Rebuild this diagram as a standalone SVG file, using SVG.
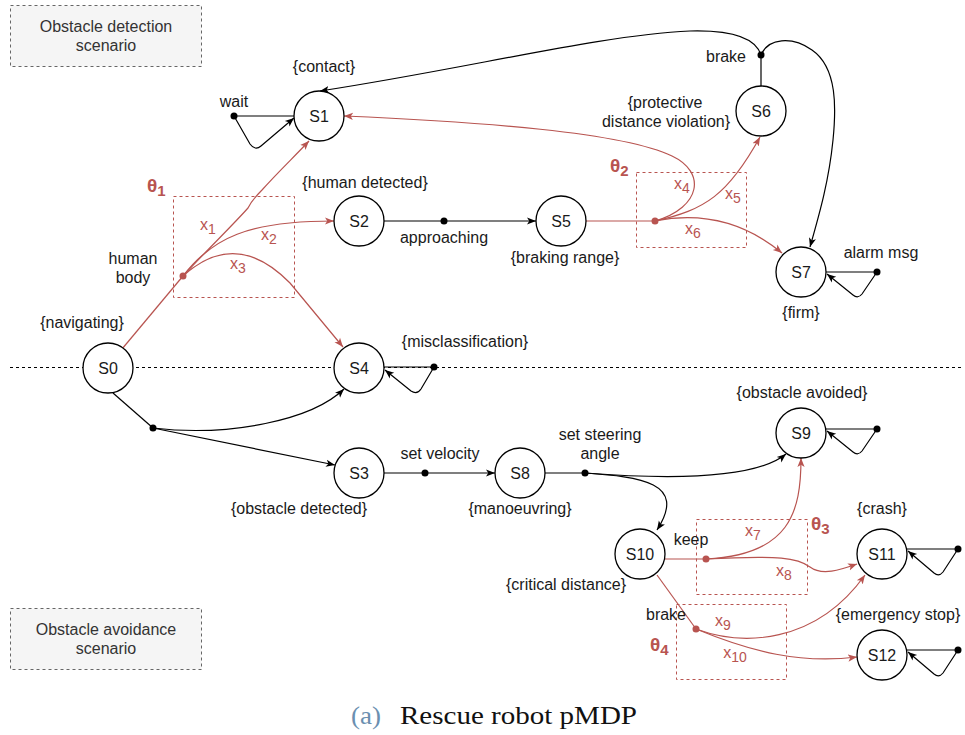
<svg xmlns="http://www.w3.org/2000/svg" width="965" height="735" viewBox="0 0 965 735">
  <style>
    .node circle { fill: #ffffff; stroke: #000000; stroke-width: 1.3; }
    .lbl { font-family: "Liberation Sans", Arial, sans-serif; font-size: 16px; fill: #1a1a1a; text-anchor: middle; }
    .red { fill: #b85450; }
    .theta { font-family: "Liberation Sans", Arial, sans-serif; font-size: 19px; font-weight: bold; fill: #b85450; }
    .blk { fill: none; stroke: #000000; stroke-width: 1.2; }
    .rd { fill: none; stroke: #b85450; stroke-width: 1.2; }
    .arr { marker-end: url(#ab); }
    .arrr { marker-end: url(#ar); }
    .dot { fill: #000000; }
    .rdot { fill: #b85450; }
    .pbox { fill: none; stroke: #b85450; stroke-width: 1; stroke-dasharray: 3 3; }
    .scen rect { fill: #f5f5f5; stroke: #666666; stroke-width: 1; stroke-dasharray: 3 3; }
    .scen text { font-family: "Liberation Sans", Arial, sans-serif; font-size: 16px; fill: #333333; text-anchor: middle; }
  </style>
  <defs>
    <marker id="ab" viewBox="0 0 10 10" refX="10" refY="5" markerWidth="9" markerHeight="9" markerUnits="userSpaceOnUse" orient="auto">
      <path d="M0,1 L10,5 L0,9 L2.5,5 z" fill="#000000"/>
    </marker>
    <marker id="ar" viewBox="0 0 10 10" refX="10" refY="5" markerWidth="9" markerHeight="9" markerUnits="userSpaceOnUse" orient="auto">
      <path d="M0,1 L10,5 L0,9 L2.5,5 z" fill="#b85450"/>
    </marker>
  </defs>

  <rect width="965" height="735" fill="#ffffff"/>

  <!-- scenario boxes -->
  <g id="scenario-detection" class="scen">
    <rect x="10.5" y="5.5" width="191" height="61"/>
    <text x="106" y="32">Obstacle detection</text>
    <text x="106" y="51">scenario</text>
  </g>
  <g id="scenario-avoidance" class="scen">
    <rect x="10.5" y="608.5" width="191" height="61"/>
    <text x="106" y="635">Obstacle avoidance</text>
    <text x="106" y="654">scenario</text>
  </g>

  <!-- divider between the two scenarios -->
  <line x1="10" y1="367.5" x2="962" y2="367.5" stroke="#000000" stroke-width="1" stroke-dasharray="3 3"/>

  <!-- parameter boxes -->
  <g id="params">
    <rect class="pbox" x="173.5" y="196.5" width="121" height="101"/>
    <rect class="pbox" x="636.5" y="172.5" width="110" height="75"/>
    <rect class="pbox" x="696.5" y="519.5" width="111" height="75"/>
    <rect class="pbox" x="676.5" y="604.5" width="110" height="75"/>
  </g>

  <!-- connectors -->
  <g id="connectors">
    <!-- obstacle detection: black -->
    <path class="blk" d="M384,221 L444,221"/>
    <path class="blk arr" d="M444,221 L536,221"/>
    <path class="blk" d="M761,86 L761,55"/>
    <path class="blk arr" d="M761,55 C755,36 728,30 690,31 C600,35 470,68 320,91"/>
    <path class="blk arr" d="M761,55 C768,38 792,36 812,50 C838,68 836,110 833,140 C829,180 820,212 810,247"/>
    <!-- self loops (top) -->
    <path class="blk" d="M234,116 L294,116"/>
    <path class="blk arr" d="M234,116 L250,144 Q255,151 261,146 L294,118"/>
    <path class="blk" d="M434,367 L384,367"/>
    <path class="blk arr" d="M434,367 L421,389 Q417,395 411,391 L385,370"/>
    <path class="blk" d="M877,272 L826,272"/>
    <path class="blk arr" d="M877,272 L862,294 Q858,299 853,295 L827,274"/>

    <!-- obstacle detection: red -->
    <path class="rd" d="M122,349 L183,276"/>
    <path class="rd arrr" d="M183,276 C205,252 232,226 248,208 C252,200 256,196 262,190 C278,172 294,157 309,141"/>
    <path class="rd arrr" d="M183,276 C212,238 248,221 334,221"/>
    <path class="rd arrr" d="M183,276 Q236,228 290,283 L343,347"/>
    <path class="rd" d="M586,221 L655,221"/>
    <path class="rd arrr" d="M655,221 C702,207 706,172 672,156 C622,132 480,122 344,116"/>
    <path class="rd arrr" d="M655,221 C705,210 728,195 760,137"/>
    <path class="rd arrr" d="M655,221 C700,212 742,220 782,253"/>

    <!-- obstacle avoidance: black -->
    <path class="blk" d="M113,393 L153,428"/>
    <path class="blk arr" d="M153,428 C230,437 312,420 344,389"/>
    <path class="blk arr" d="M153,428 L335,465"/>
    <path class="blk" d="M384,473 L425,473"/>
    <path class="blk arr" d="M425,473 L495,473"/>
    <path class="blk" d="M545,473 L585,473"/>
    <path class="blk arr" d="M585,473 C650,478 752,482 786,454"/>
    <path class="blk arr" d="M585,473 C640,477 688,482 657,530"/>
    <!-- self loops (bottom) -->
    <path class="blk" d="M877,429 L826,429"/>
    <path class="blk arr" d="M877,429 L862,451 Q858,456 853,452 L827,431"/>
    <path class="blk" d="M958,549 L907,549"/>
    <path class="blk arr" d="M958,549 L943,572 Q939,577 934,573 L908,551"/>
    <path class="blk" d="M958,650 L907,650"/>
    <path class="blk arr" d="M958,650 L943,673 Q939,678 934,674 L908,652"/>

    <!-- obstacle avoidance: red -->
    <path class="rd" d="M665,559 L706,559"/>
    <path class="rd arrr" d="M706,559 C790,555 801,512 801,458"/>
    <path class="rd arrr" d="M706,559 C780,555 798,558 810,567 C822,576 840,570 857,564"/>
    <path class="rd" d="M657,575 L696,629"/>
    <path class="rd arrr" d="M696,629 C742,646 815,645 865,575"/>
    <path class="rd arrr" d="M696,629 C752,652 800,664 857,657"/>
  </g>

  <!-- junction dots -->
  <g id="junctions">
    <circle class="dot" cx="234" cy="116" r="3.5"/>
    <circle class="dot" cx="444" cy="221" r="3.5"/>
    <circle class="dot" cx="761" cy="55" r="3.5"/>
    <circle class="dot" cx="877" cy="272" r="3.5"/>
    <circle class="dot" cx="434" cy="367" r="3.5"/>
    <circle class="dot" cx="153" cy="428" r="3.5"/>
    <circle class="dot" cx="425" cy="473" r="3.5"/>
    <circle class="dot" cx="585" cy="473" r="3.5"/>
    <circle class="dot" cx="877" cy="429" r="3.5"/>
    <circle class="dot" cx="958" cy="549" r="3.5"/>
    <circle class="dot" cx="958" cy="650" r="3.5"/>
    <circle class="rdot" cx="183" cy="276" r="3.5"/>
    <circle class="rdot" cx="655" cy="221" r="3.5"/>
    <circle class="rdot" cx="706" cy="559" r="3.5"/>
    <circle class="rdot" cx="696" cy="629" r="3.5"/>
  </g>

  <!-- states -->
  <g id="S0" class="node"><circle cx="108" cy="368" r="25"/><text class="lbl" x="108" y="374">S0</text></g>
  <g id="S1" class="node"><circle cx="319" cy="116" r="25"/><text class="lbl" x="319" y="122">S1</text></g>
  <g id="S2" class="node"><circle cx="359" cy="221" r="25"/><text class="lbl" x="359" y="227">S2</text></g>
  <g id="S3" class="node"><circle cx="359" cy="473" r="25"/><text class="lbl" x="359" y="479">S3</text></g>
  <g id="S4" class="node"><circle cx="359" cy="368" r="25"/><text class="lbl" x="359" y="374">S4</text></g>
  <g id="S5" class="node"><circle cx="561" cy="221" r="25"/><text class="lbl" x="561" y="227">S5</text></g>
  <g id="S6" class="node"><circle cx="761" cy="111" r="25"/><text class="lbl" x="761" y="117">S6</text></g>
  <g id="S7" class="node"><circle cx="801" cy="272" r="25"/><text class="lbl" x="801" y="278">S7</text></g>
  <g id="S8" class="node"><circle cx="520" cy="473" r="25"/><text class="lbl" x="520" y="479">S8</text></g>
  <g id="S9" class="node"><circle cx="801" cy="433" r="25"/><text class="lbl" x="801" y="439">S9</text></g>
  <g id="S10" class="node"><circle cx="640" cy="554" r="25"/><text class="lbl" x="640" y="560">S10</text></g>
  <g id="S11" class="node"><circle cx="882" cy="554" r="25"/><text class="lbl" x="882" y="560">S11</text></g>
  <g id="S12" class="node"><circle cx="882" cy="655" r="25"/><text class="lbl" x="882" y="661">S12</text></g>

  <!-- state and action labels -->
  <g id="labels">
    <text class="lbl" x="82" y="328">{navigating}</text>
    <text class="lbl" x="324" y="72">{contact}</text>
    <text class="lbl" x="234" y="107">wait</text>
    <text class="lbl" x="365" y="188">{human detected}</text>
    <text class="lbl" x="444" y="243">approaching</text>
    <text class="lbl" x="133" y="264">human</text>
    <text class="lbl" x="133" y="283">body</text>
    <text class="lbl" x="465" y="347">{misclassification}</text>
    <text class="lbl" x="565" y="263">{braking range}</text>
    <text class="lbl" x="665" y="108">{protective</text>
    <text class="lbl" x="666" y="127">distance violation}</text>
    <text class="lbl" x="726" y="62">brake</text>
    <text class="lbl" x="881" y="258">alarm msg</text>
    <text class="lbl" x="801" y="318">{firm}</text>
    <text class="lbl" x="802" y="398">{obstacle avoided}</text>
    <text class="lbl" x="440" y="459">set velocity</text>
    <text class="lbl" x="299" y="514">{obstacle detected}</text>
    <text class="lbl" x="600" y="440">set steering</text>
    <text class="lbl" x="600" y="459">angle</text>
    <text class="lbl" x="520" y="514">{manoeuvring}</text>
    <text class="lbl" x="882" y="514">{crash}</text>
    <text class="lbl" x="691" y="545">keep</text>
    <text class="lbl" x="566" y="590">{critical distance}</text>
    <text class="lbl" x="666" y="620">brake</text>
    <text class="lbl" x="898" y="620">{emergency stop}</text>
  </g>

  <!-- parameter and probability labels -->
  <g id="param-labels">
    <text class="theta" x="147" y="192">θ<tspan font-size="15" dy="4">1</tspan></text>
    <text class="theta" x="610" y="172">θ<tspan font-size="15" dy="4">2</tspan></text>
    <text class="theta" x="811" y="530">θ<tspan font-size="15" dy="4">3</tspan></text>
    <text class="theta" x="650" y="651">θ<tspan font-size="15" dy="4">4</tspan></text>
    <text class="lbl red" x="208" y="230">x<tspan font-size="14" dy="4">1</tspan></text>
    <text class="lbl red" x="269" y="240">x<tspan font-size="14" dy="4">2</tspan></text>
    <text class="lbl red" x="238" y="269">x<tspan font-size="14" dy="4">3</tspan></text>
    <text class="lbl red" x="682" y="189">x<tspan font-size="14" dy="4">4</tspan></text>
    <text class="lbl red" x="733" y="199">x<tspan font-size="14" dy="4">5</tspan></text>
    <text class="lbl red" x="693" y="234">x<tspan font-size="14" dy="4">6</tspan></text>
    <text class="lbl red" x="753" y="536">x<tspan font-size="14" dy="4">7</tspan></text>
    <text class="lbl red" x="784" y="576">x<tspan font-size="14" dy="4">8</tspan></text>
    <text class="lbl red" x="723" y="626">x<tspan font-size="14" dy="4">9</tspan></text>
    <text class="lbl red" x="735" y="658">x<tspan font-size="14" dy="4">10</tspan></text>
  </g>

  <!-- caption -->
  <g id="caption" font-family="'Liberation Serif', 'Times New Roman', serif" font-size="25">
    <text x="351" y="724" fill="#6b8fb0" textLength="30" lengthAdjust="spacingAndGlyphs">(a)</text>
    <text x="400" y="724" fill="#111111" textLength="237" lengthAdjust="spacingAndGlyphs">Rescue robot pMDP</text>
  </g>
</svg>
